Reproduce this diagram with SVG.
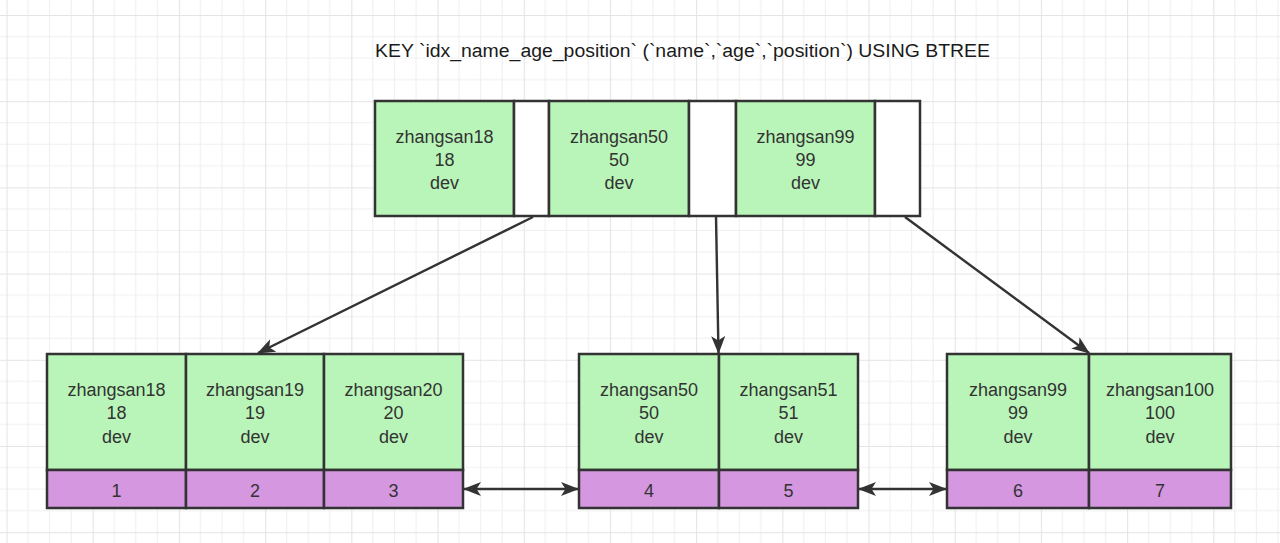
<svg xmlns="http://www.w3.org/2000/svg" width="1280" height="543" viewBox="0 0 1280 543">
<style>
  .t { font-family: "Liberation Sans", Arial, sans-serif; font-size: 18px; fill: #333333; text-anchor: middle; }
  .title { font-family: "Liberation Sans", Arial, sans-serif; font-size: 18px; fill: #1a1a1a; text-anchor: middle; }
  .g { fill: #b9f5b9; stroke: #333333; stroke-width: 2.5; }
  .w { fill: #ffffff; stroke: #333333; stroke-width: 2.5; }
  .p { fill: #d597e0; stroke: #333333; stroke-width: 2.5; }
  .c { fill: none; stroke: #333333; stroke-width: 2.4; }
</style>
<defs>
  <pattern id="grid" x="6.5" y="15" width="86.2" height="86.2" patternUnits="userSpaceOnUse">
    <path d="M21.55 0V86.2M43.1 0V86.2M64.65 0V86.2M0 21.55H86.2M0 43.1H86.2M0 64.65H86.2" stroke="#f0f0f0" stroke-width="1.2" fill="none"/>
    <path d="M0.5 0V86.2M0 0.5H86.2" stroke="#e4e4e4" stroke-width="1.2" fill="none"/>
  </pattern>
  <marker id="arr" viewBox="0 0 18 14" refX="17" refY="7" markerWidth="18" markerHeight="14" markerUnits="userSpaceOnUse" orient="auto-start-reverse">
    <path d="M0 0L18 7L0 14L4.5 7Z" fill="#333333"/>
  </marker>
</defs>
<rect width="1280" height="543" fill="#ffffff"/>
<rect width="1280" height="543" fill="url(#grid)"/>

<text class="title" x="682.5" y="56.5" textLength="615" lengthAdjust="spacingAndGlyphs">KEY `idx_name_age_position` (`name`,`age`,`position`) USING BTREE</text>

<g id="root">
  <rect class="g" x="375" y="101" width="139" height="115"/>
  <rect class="w" x="514" y="101" width="35" height="115"/>
  <rect class="g" x="549" y="101" width="140" height="115"/>
  <rect class="w" x="689" y="101" width="47" height="115"/>
  <rect class="g" x="736" y="101" width="139" height="115"/>
  <rect class="w" x="875" y="101" width="45" height="115"/>
  <text class="t" x="444.5" y="143">zhangsan18</text>
  <text class="t" x="444.5" y="166">18</text>
  <text class="t" x="444.5" y="189">dev</text>
  <text class="t" x="619" y="143">zhangsan50</text>
  <text class="t" x="619" y="166">50</text>
  <text class="t" x="619" y="189">dev</text>
  <text class="t" x="805.5" y="143">zhangsan99</text>
  <text class="t" x="805.5" y="166">99</text>
  <text class="t" x="805.5" y="189">dev</text>
</g>

<g id="leaf1">
  <rect class="g" x="47" y="354" width="139" height="116"/>
  <rect class="g" x="186" y="354" width="138" height="116"/>
  <rect class="g" x="324" y="354" width="139" height="116"/>
  <rect class="p" x="47" y="470" width="139" height="38"/>
  <rect class="p" x="186" y="470" width="138" height="38"/>
  <rect class="p" x="324" y="470" width="139" height="38"/>
  <text class="t" x="116.5" y="395.5">zhangsan18</text>
  <text class="t" x="116.5" y="419">18</text>
  <text class="t" x="116.5" y="442.5">dev</text>
  <text class="t" x="255" y="395.5">zhangsan19</text>
  <text class="t" x="255" y="419">19</text>
  <text class="t" x="255" y="442.5">dev</text>
  <text class="t" x="393.5" y="395.5">zhangsan20</text>
  <text class="t" x="393.5" y="419">20</text>
  <text class="t" x="393.5" y="442.5">dev</text>
  <text class="t" x="116.5" y="496.5">1</text>
  <text class="t" x="255" y="496.5">2</text>
  <text class="t" x="393.5" y="496.5">3</text>
</g>

<g id="leaf2">
  <rect class="g" x="579" y="354" width="140" height="116"/>
  <rect class="g" x="719" y="354" width="139" height="116"/>
  <rect class="p" x="579" y="470" width="140" height="38"/>
  <rect class="p" x="719" y="470" width="139" height="38"/>
  <text class="t" x="649" y="395.5">zhangsan50</text>
  <text class="t" x="649" y="419">50</text>
  <text class="t" x="649" y="442.5">dev</text>
  <text class="t" x="788.5" y="395.5">zhangsan51</text>
  <text class="t" x="788.5" y="419">51</text>
  <text class="t" x="788.5" y="442.5">dev</text>
  <text class="t" x="649" y="496.5">4</text>
  <text class="t" x="788.5" y="496.5">5</text>
</g>

<g id="leaf3">
  <rect class="g" x="947" y="354" width="142" height="116"/>
  <rect class="g" x="1089" y="354" width="142" height="116"/>
  <rect class="p" x="947" y="470" width="142" height="38"/>
  <rect class="p" x="1089" y="470" width="142" height="38"/>
  <text class="t" x="1018" y="395.5">zhangsan99</text>
  <text class="t" x="1018" y="419">99</text>
  <text class="t" x="1018" y="442.5">dev</text>
  <text class="t" x="1160" y="395.5">zhangsan100</text>
  <text class="t" x="1160" y="419">100</text>
  <text class="t" x="1160" y="442.5">dev</text>
  <text class="t" x="1018" y="496.5">6</text>
  <text class="t" x="1160" y="496.5">7</text>
</g>

<g id="connectors">
  <line class="c" x1="533" y1="217" x2="258" y2="353" marker-end="url(#arr)"/>
  <line class="c" x1="716" y1="217" x2="718.5" y2="353" marker-end="url(#arr)"/>
  <line class="c" x1="905" y1="217" x2="1089" y2="353" marker-end="url(#arr)"/>
  <line class="c" x1="464" y1="489" x2="578" y2="489" marker-start="url(#arr)" marker-end="url(#arr)"/>
  <line class="c" x1="859" y1="489" x2="946" y2="489" marker-start="url(#arr)" marker-end="url(#arr)"/>
</g>
</svg>
